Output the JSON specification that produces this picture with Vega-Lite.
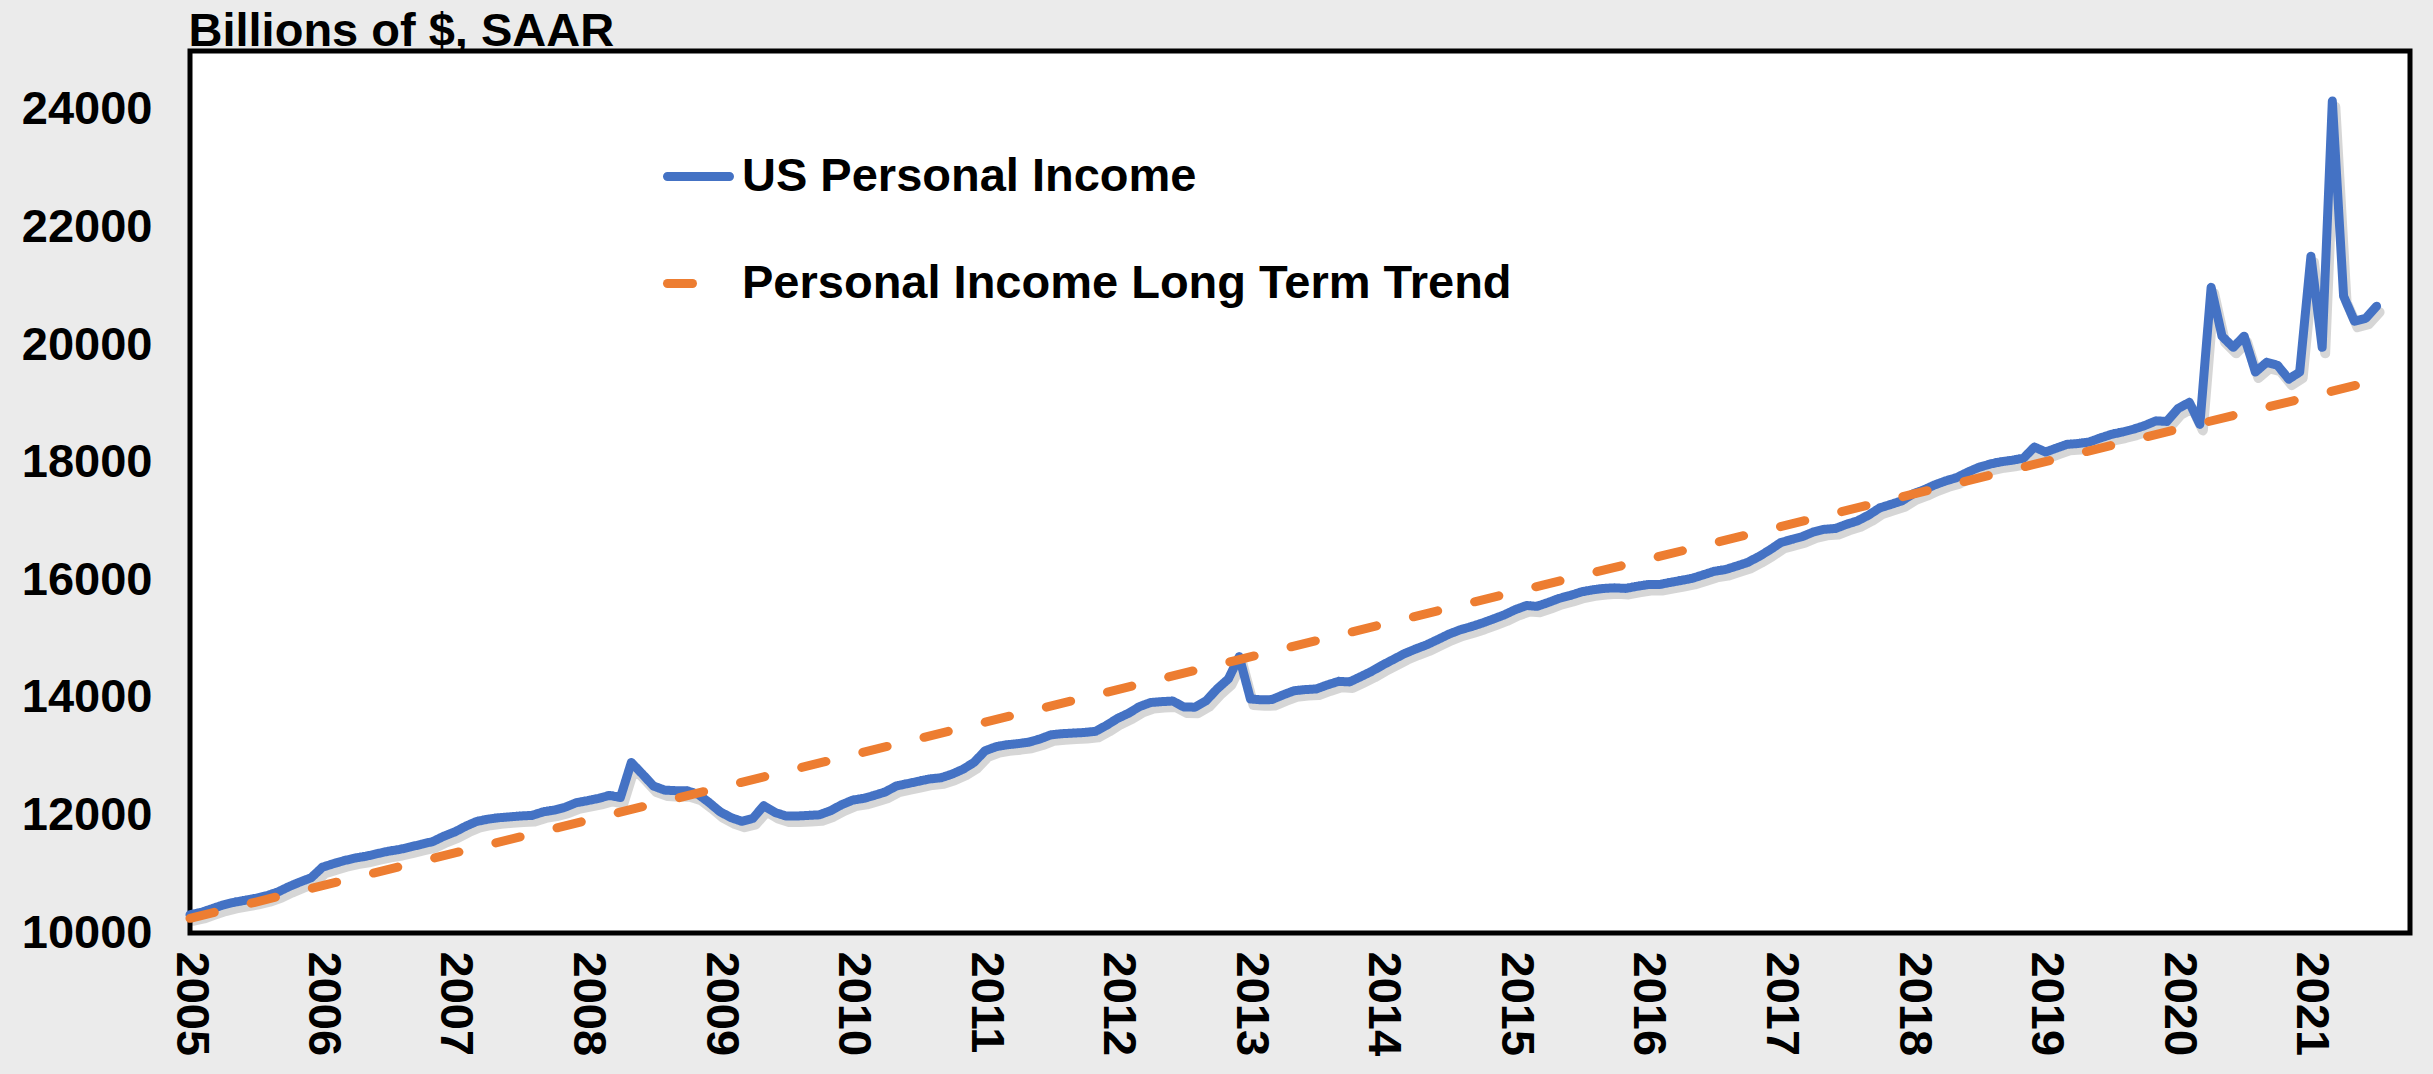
{
  "$schema": "https://vega.github.io/schema/vega-lite/v6.json",
  "width": 2220,
  "height": 882,
  "autosize": {"type": "none"},
  "padding": {"left": 190, "top": 51, "right": 23, "bottom": 141},
  "background": "#ebebeb",
  "config": {
    "font": "Liberation Sans",
    "view": {"fill": "white", "stroke": "black", "strokeWidth": 5},
    "legend": {
      "orient": "none",
      "legendX": 473,
      "legendY": 90,
      "title": null,
      "symbolType": "stroke",
      "symbolSize": 3844,
      "symbolStrokeWidth": 9,
      "labelFontSize": 47,
      "labelFont": "Liberation Sans",
      "labelFontWeight": "bold",
      "labelColor": "black",
      "labelOffset": 8,
      "labelLimit": 0,
      "rowPadding": 48
    }
  },
  "data": {
    "values": [
      {"d":"2005-01-01","v":10310,"s":"US Personal Income"},{"d":"2005-02-01","v":10350,"s":"US Personal Income"},{"d":"2005-03-01","v":10410,"s":"US Personal Income"},{"d":"2005-04-01","v":10475,"s":"US Personal Income"},{"d":"2005-05-01","v":10520,"s":"US Personal Income"},{"d":"2005-06-01","v":10555,"s":"US Personal Income"},{"d":"2005-07-01","v":10590,"s":"US Personal Income"},{"d":"2005-08-01","v":10635,"s":"US Personal Income"},{"d":"2005-09-01","v":10700,"s":"US Personal Income"},{"d":"2005-10-01","v":10790,"s":"US Personal Income"},{"d":"2005-11-01","v":10870,"s":"US Personal Income"},{"d":"2005-12-01","v":10940,"s":"US Personal Income"},
      {"d":"2006-01-01","v":11120,"s":"US Personal Income"},{"d":"2006-02-01","v":11180,"s":"US Personal Income"},{"d":"2006-03-01","v":11230,"s":"US Personal Income"},{"d":"2006-04-01","v":11275,"s":"US Personal Income"},{"d":"2006-05-01","v":11305,"s":"US Personal Income"},{"d":"2006-06-01","v":11350,"s":"US Personal Income"},{"d":"2006-07-01","v":11390,"s":"US Personal Income"},{"d":"2006-08-01","v":11420,"s":"US Personal Income"},{"d":"2006-09-01","v":11465,"s":"US Personal Income"},{"d":"2006-10-01","v":11510,"s":"US Personal Income"},{"d":"2006-11-01","v":11555,"s":"US Personal Income"},{"d":"2006-12-01","v":11645,"s":"US Personal Income"},
      {"d":"2007-01-01","v":11720,"s":"US Personal Income"},{"d":"2007-02-01","v":11820,"s":"US Personal Income"},{"d":"2007-03-01","v":11895,"s":"US Personal Income"},{"d":"2007-04-01","v":11935,"s":"US Personal Income"},{"d":"2007-05-01","v":11960,"s":"US Personal Income"},{"d":"2007-06-01","v":11975,"s":"US Personal Income"},{"d":"2007-07-01","v":11990,"s":"US Personal Income"},{"d":"2007-08-01","v":12000,"s":"US Personal Income"},{"d":"2007-09-01","v":12060,"s":"US Personal Income"},{"d":"2007-10-01","v":12090,"s":"US Personal Income"},{"d":"2007-11-01","v":12140,"s":"US Personal Income"},{"d":"2007-12-01","v":12215,"s":"US Personal Income"},
      {"d":"2008-01-01","v":12250,"s":"US Personal Income"},{"d":"2008-02-01","v":12290,"s":"US Personal Income"},{"d":"2008-03-01","v":12340,"s":"US Personal Income"},{"d":"2008-04-01","v":12305,"s":"US Personal Income"},{"d":"2008-05-01","v":12900,"s":"US Personal Income"},{"d":"2008-06-01","v":12700,"s":"US Personal Income"},{"d":"2008-07-01","v":12500,"s":"US Personal Income"},{"d":"2008-08-01","v":12430,"s":"US Personal Income"},{"d":"2008-09-01","v":12420,"s":"US Personal Income"},{"d":"2008-10-01","v":12420,"s":"US Personal Income"},{"d":"2008-11-01","v":12360,"s":"US Personal Income"},{"d":"2008-12-01","v":12220,"s":"US Personal Income"},
      {"d":"2009-01-01","v":12060,"s":"US Personal Income"},{"d":"2009-02-01","v":11960,"s":"US Personal Income"},{"d":"2009-03-01","v":11900,"s":"US Personal Income"},{"d":"2009-04-01","v":11950,"s":"US Personal Income"},{"d":"2009-05-01","v":12165,"s":"US Personal Income"},{"d":"2009-06-01","v":12050,"s":"US Personal Income"},{"d":"2009-07-01","v":11990,"s":"US Personal Income"},{"d":"2009-08-01","v":11990,"s":"US Personal Income"},{"d":"2009-09-01","v":12000,"s":"US Personal Income"},{"d":"2009-10-01","v":12010,"s":"US Personal Income"},{"d":"2009-11-01","v":12080,"s":"US Personal Income"},{"d":"2009-12-01","v":12180,"s":"US Personal Income"},
      {"d":"2010-01-01","v":12260,"s":"US Personal Income"},{"d":"2010-02-01","v":12290,"s":"US Personal Income"},{"d":"2010-03-01","v":12340,"s":"US Personal Income"},{"d":"2010-04-01","v":12400,"s":"US Personal Income"},{"d":"2010-05-01","v":12500,"s":"US Personal Income"},{"d":"2010-06-01","v":12540,"s":"US Personal Income"},{"d":"2010-07-01","v":12580,"s":"US Personal Income"},{"d":"2010-08-01","v":12620,"s":"US Personal Income"},{"d":"2010-09-01","v":12640,"s":"US Personal Income"},{"d":"2010-10-01","v":12700,"s":"US Personal Income"},{"d":"2010-11-01","v":12785,"s":"US Personal Income"},{"d":"2010-12-01","v":12900,"s":"US Personal Income"},
      {"d":"2011-01-01","v":13100,"s":"US Personal Income"},{"d":"2011-02-01","v":13170,"s":"US Personal Income"},{"d":"2011-03-01","v":13200,"s":"US Personal Income"},{"d":"2011-04-01","v":13220,"s":"US Personal Income"},{"d":"2011-05-01","v":13245,"s":"US Personal Income"},{"d":"2011-06-01","v":13300,"s":"US Personal Income"},{"d":"2011-07-01","v":13370,"s":"US Personal Income"},{"d":"2011-08-01","v":13390,"s":"US Personal Income"},{"d":"2011-09-01","v":13400,"s":"US Personal Income"},{"d":"2011-10-01","v":13410,"s":"US Personal Income"},{"d":"2011-11-01","v":13430,"s":"US Personal Income"},{"d":"2011-12-01","v":13530,"s":"US Personal Income"},
      {"d":"2012-01-01","v":13650,"s":"US Personal Income"},{"d":"2012-02-01","v":13740,"s":"US Personal Income"},{"d":"2012-03-01","v":13850,"s":"US Personal Income"},{"d":"2012-04-01","v":13920,"s":"US Personal Income"},{"d":"2012-05-01","v":13935,"s":"US Personal Income"},{"d":"2012-06-01","v":13945,"s":"US Personal Income"},{"d":"2012-07-01","v":13845,"s":"US Personal Income"},{"d":"2012-08-01","v":13840,"s":"US Personal Income"},{"d":"2012-09-01","v":13950,"s":"US Personal Income"},{"d":"2012-10-01","v":14150,"s":"US Personal Income"},{"d":"2012-11-01","v":14320,"s":"US Personal Income"},{"d":"2012-12-01","v":14700,"s":"US Personal Income"},
      {"d":"2013-01-01","v":13980,"s":"US Personal Income"},{"d":"2013-02-01","v":13965,"s":"US Personal Income"},{"d":"2013-03-01","v":13970,"s":"US Personal Income"},{"d":"2013-04-01","v":14050,"s":"US Personal Income"},{"d":"2013-05-01","v":14120,"s":"US Personal Income"},{"d":"2013-06-01","v":14140,"s":"US Personal Income"},{"d":"2013-07-01","v":14150,"s":"US Personal Income"},{"d":"2013-08-01","v":14220,"s":"US Personal Income"},{"d":"2013-09-01","v":14280,"s":"US Personal Income"},{"d":"2013-10-01","v":14270,"s":"US Personal Income"},{"d":"2013-11-01","v":14360,"s":"US Personal Income"},{"d":"2013-12-01","v":14450,"s":"US Personal Income"},
      {"d":"2014-01-01","v":14560,"s":"US Personal Income"},{"d":"2014-02-01","v":14660,"s":"US Personal Income"},{"d":"2014-03-01","v":14750,"s":"US Personal Income"},{"d":"2014-04-01","v":14830,"s":"US Personal Income"},{"d":"2014-05-01","v":14900,"s":"US Personal Income"},{"d":"2014-06-01","v":14990,"s":"US Personal Income"},{"d":"2014-07-01","v":15080,"s":"US Personal Income"},{"d":"2014-08-01","v":15155,"s":"US Personal Income"},{"d":"2014-09-01","v":15210,"s":"US Personal Income"},{"d":"2014-10-01","v":15270,"s":"US Personal Income"},{"d":"2014-11-01","v":15340,"s":"US Personal Income"},{"d":"2014-12-01","v":15410,"s":"US Personal Income"},
      {"d":"2015-01-01","v":15500,"s":"US Personal Income"},{"d":"2015-02-01","v":15570,"s":"US Personal Income"},{"d":"2015-03-01","v":15555,"s":"US Personal Income"},{"d":"2015-04-01","v":15620,"s":"US Personal Income"},{"d":"2015-05-01","v":15690,"s":"US Personal Income"},{"d":"2015-06-01","v":15740,"s":"US Personal Income"},{"d":"2015-07-01","v":15800,"s":"US Personal Income"},{"d":"2015-08-01","v":15835,"s":"US Personal Income"},{"d":"2015-09-01","v":15860,"s":"US Personal Income"},{"d":"2015-10-01","v":15870,"s":"US Personal Income"},{"d":"2015-11-01","v":15860,"s":"US Personal Income"},{"d":"2015-12-01","v":15895,"s":"US Personal Income"},
      {"d":"2016-01-01","v":15925,"s":"US Personal Income"},{"d":"2016-02-01","v":15925,"s":"US Personal Income"},{"d":"2016-03-01","v":15960,"s":"US Personal Income"},{"d":"2016-04-01","v":15995,"s":"US Personal Income"},{"d":"2016-05-01","v":16030,"s":"US Personal Income"},{"d":"2016-06-01","v":16090,"s":"US Personal Income"},{"d":"2016-07-01","v":16150,"s":"US Personal Income"},{"d":"2016-08-01","v":16180,"s":"US Personal Income"},{"d":"2016-09-01","v":16240,"s":"US Personal Income"},{"d":"2016-10-01","v":16300,"s":"US Personal Income"},{"d":"2016-11-01","v":16400,"s":"US Personal Income"},{"d":"2016-12-01","v":16510,"s":"US Personal Income"},
      {"d":"2017-01-01","v":16640,"s":"US Personal Income"},{"d":"2017-02-01","v":16695,"s":"US Personal Income"},{"d":"2017-03-01","v":16740,"s":"US Personal Income"},{"d":"2017-04-01","v":16820,"s":"US Personal Income"},{"d":"2017-05-01","v":16865,"s":"US Personal Income"},{"d":"2017-06-01","v":16880,"s":"US Personal Income"},{"d":"2017-07-01","v":16950,"s":"US Personal Income"},{"d":"2017-08-01","v":17010,"s":"US Personal Income"},{"d":"2017-09-01","v":17110,"s":"US Personal Income"},{"d":"2017-10-01","v":17230,"s":"US Personal Income"},{"d":"2017-11-01","v":17290,"s":"US Personal Income"},{"d":"2017-12-01","v":17350,"s":"US Personal Income"},
      {"d":"2018-01-01","v":17470,"s":"US Personal Income"},{"d":"2018-02-01","v":17540,"s":"US Personal Income"},{"d":"2018-03-01","v":17620,"s":"US Personal Income"},{"d":"2018-04-01","v":17690,"s":"US Personal Income"},{"d":"2018-05-01","v":17745,"s":"US Personal Income"},{"d":"2018-06-01","v":17840,"s":"US Personal Income"},{"d":"2018-07-01","v":17920,"s":"US Personal Income"},{"d":"2018-08-01","v":17975,"s":"US Personal Income"},{"d":"2018-09-01","v":18015,"s":"US Personal Income"},{"d":"2018-10-01","v":18040,"s":"US Personal Income"},{"d":"2018-11-01","v":18075,"s":"US Personal Income"},{"d":"2018-12-01","v":18265,"s":"US Personal Income"},
      {"d":"2019-01-01","v":18180,"s":"US Personal Income"},{"d":"2019-02-01","v":18250,"s":"US Personal Income"},{"d":"2019-03-01","v":18310,"s":"US Personal Income"},{"d":"2019-04-01","v":18325,"s":"US Personal Income"},{"d":"2019-05-01","v":18350,"s":"US Personal Income"},{"d":"2019-06-01","v":18420,"s":"US Personal Income"},{"d":"2019-07-01","v":18480,"s":"US Personal Income"},{"d":"2019-08-01","v":18520,"s":"US Personal Income"},{"d":"2019-09-01","v":18570,"s":"US Personal Income"},{"d":"2019-10-01","v":18630,"s":"US Personal Income"},{"d":"2019-11-01","v":18710,"s":"US Personal Income"},{"d":"2019-12-01","v":18700,"s":"US Personal Income"},
      {"d":"2020-01-01","v":18920,"s":"US Personal Income"},{"d":"2020-02-01","v":19025,"s":"US Personal Income"},{"d":"2020-03-01","v":18650,"s":"US Personal Income"},{"d":"2020-04-01","v":20980,"s":"US Personal Income"},{"d":"2020-05-01","v":20150,"s":"US Personal Income"},{"d":"2020-06-01","v":19960,"s":"US Personal Income"},{"d":"2020-07-01","v":20150,"s":"US Personal Income"},{"d":"2020-08-01","v":19540,"s":"US Personal Income"},{"d":"2020-09-01","v":19705,"s":"US Personal Income"},{"d":"2020-10-01","v":19655,"s":"US Personal Income"},{"d":"2020-11-01","v":19420,"s":"US Personal Income"},{"d":"2020-12-01","v":19540,"s":"US Personal Income"},
      {"d":"2021-01-01","v":21510,"s":"US Personal Income"},{"d":"2021-02-01","v":19960,"s":"US Personal Income"},{"d":"2021-03-01","v":24150,"s":"US Personal Income"},{"d":"2021-04-01","v":20830,"s":"US Personal Income"},{"d":"2021-05-01","v":20405,"s":"US Personal Income"},{"d":"2021-06-01","v":20455,"s":"US Personal Income"},{"d":"2021-07-01","v":20660,"s":"US Personal Income"},
      {"d":"2005-01-01","v":10250,"s":"Personal Income Long Term Trend"},
      {"d":"2012-12-01","v":14650,"s":"Personal Income Long Term Trend"},
      {"d":"2021-07-01","v":19400,"s":"Personal Income Long Term Trend"}
    ]
  },
  "encoding": {
    "x": {
      "field": "d",
      "type": "temporal",
      "scale": {
        "type": "utc",
        "domain": [
          {"year": 2005, "month": 1, "date": 1, "utc": true},
          {"year": 2021, "month": 10, "date": 1, "utc": true}
        ]
      },
      "axis": {
        "title": null,
        "format": "%Y",
        "tickCount": {"interval": "year", "step": 1},
        "labelAngle": 90,
        "labelFontSize": 47,
        "labelFontWeight": "bold",
        "labelColor": "black",
        "labelPadding": 18,
        "labelOverlap": false,
        "labelFlush": false,
        "ticks": false,
        "domain": false,
        "grid": false
      }
    },
    "y": {
      "field": "v",
      "type": "quantitative",
      "scale": {"domain": [10000, 25000], "nice": false, "zero": false},
      "axis": {
        "title": "Billions of $, SAAR",
        "titleAngle": 0,
        "titleAlign": "left",
        "titleBaseline": "alphabetic",
        "titleX": -2,
        "titleY": -6,
        "titleFontSize": 47,
        "titleFontWeight": "bold",
        "titleColor": "black",
        "values": [10000, 12000, 14000, 16000, 18000, 20000, 22000, 24000],
        "format": "d",
        "labelFontSize": 47,
        "labelFontWeight": "bold",
        "labelColor": "black",
        "labelPadding": 38,
        "ticks": false,
        "domain": false,
        "grid": false
      }
    }
  },
  "layer": [
    {
      "transform": [{"filter": "datum.s === 'US Personal Income'"}],
      "mark": {
        "type": "line",
        "color": "#000000",
        "opacity": 0.16,
        "strokeWidth": 10,
        "xOffset": 3,
        "yOffset": 6,
        "strokeCap": "round",
        "strokeJoin": "round"
      }
    },
    {
      "mark": {"type": "line", "strokeWidth": 9, "strokeCap": "round", "strokeJoin": "round"},
      "encoding": {
        "color": {
          "field": "s",
          "type": "nominal",
          "scale": {
            "domain": ["US Personal Income", "Personal Income Long Term Trend"],
            "range": ["#4472C4", "#ED7D31"]
          },
          "legend": {
            "encode": {"symbols": {"update": {"strokeCap": {"value": "round"}}}}
          }
        },
        "strokeDash": {
          "field": "s",
          "type": "nominal",
          "scale": {
            "domain": ["US Personal Income", "Personal Income Long Term Trend"],
            "range": [[1, 0], [25, 38]]
          },
          "legend": {
            "encode": {"symbols": {"update": {"strokeCap": {"value": "round"}}}}
          }
        }
      }
    }
  ]
}
